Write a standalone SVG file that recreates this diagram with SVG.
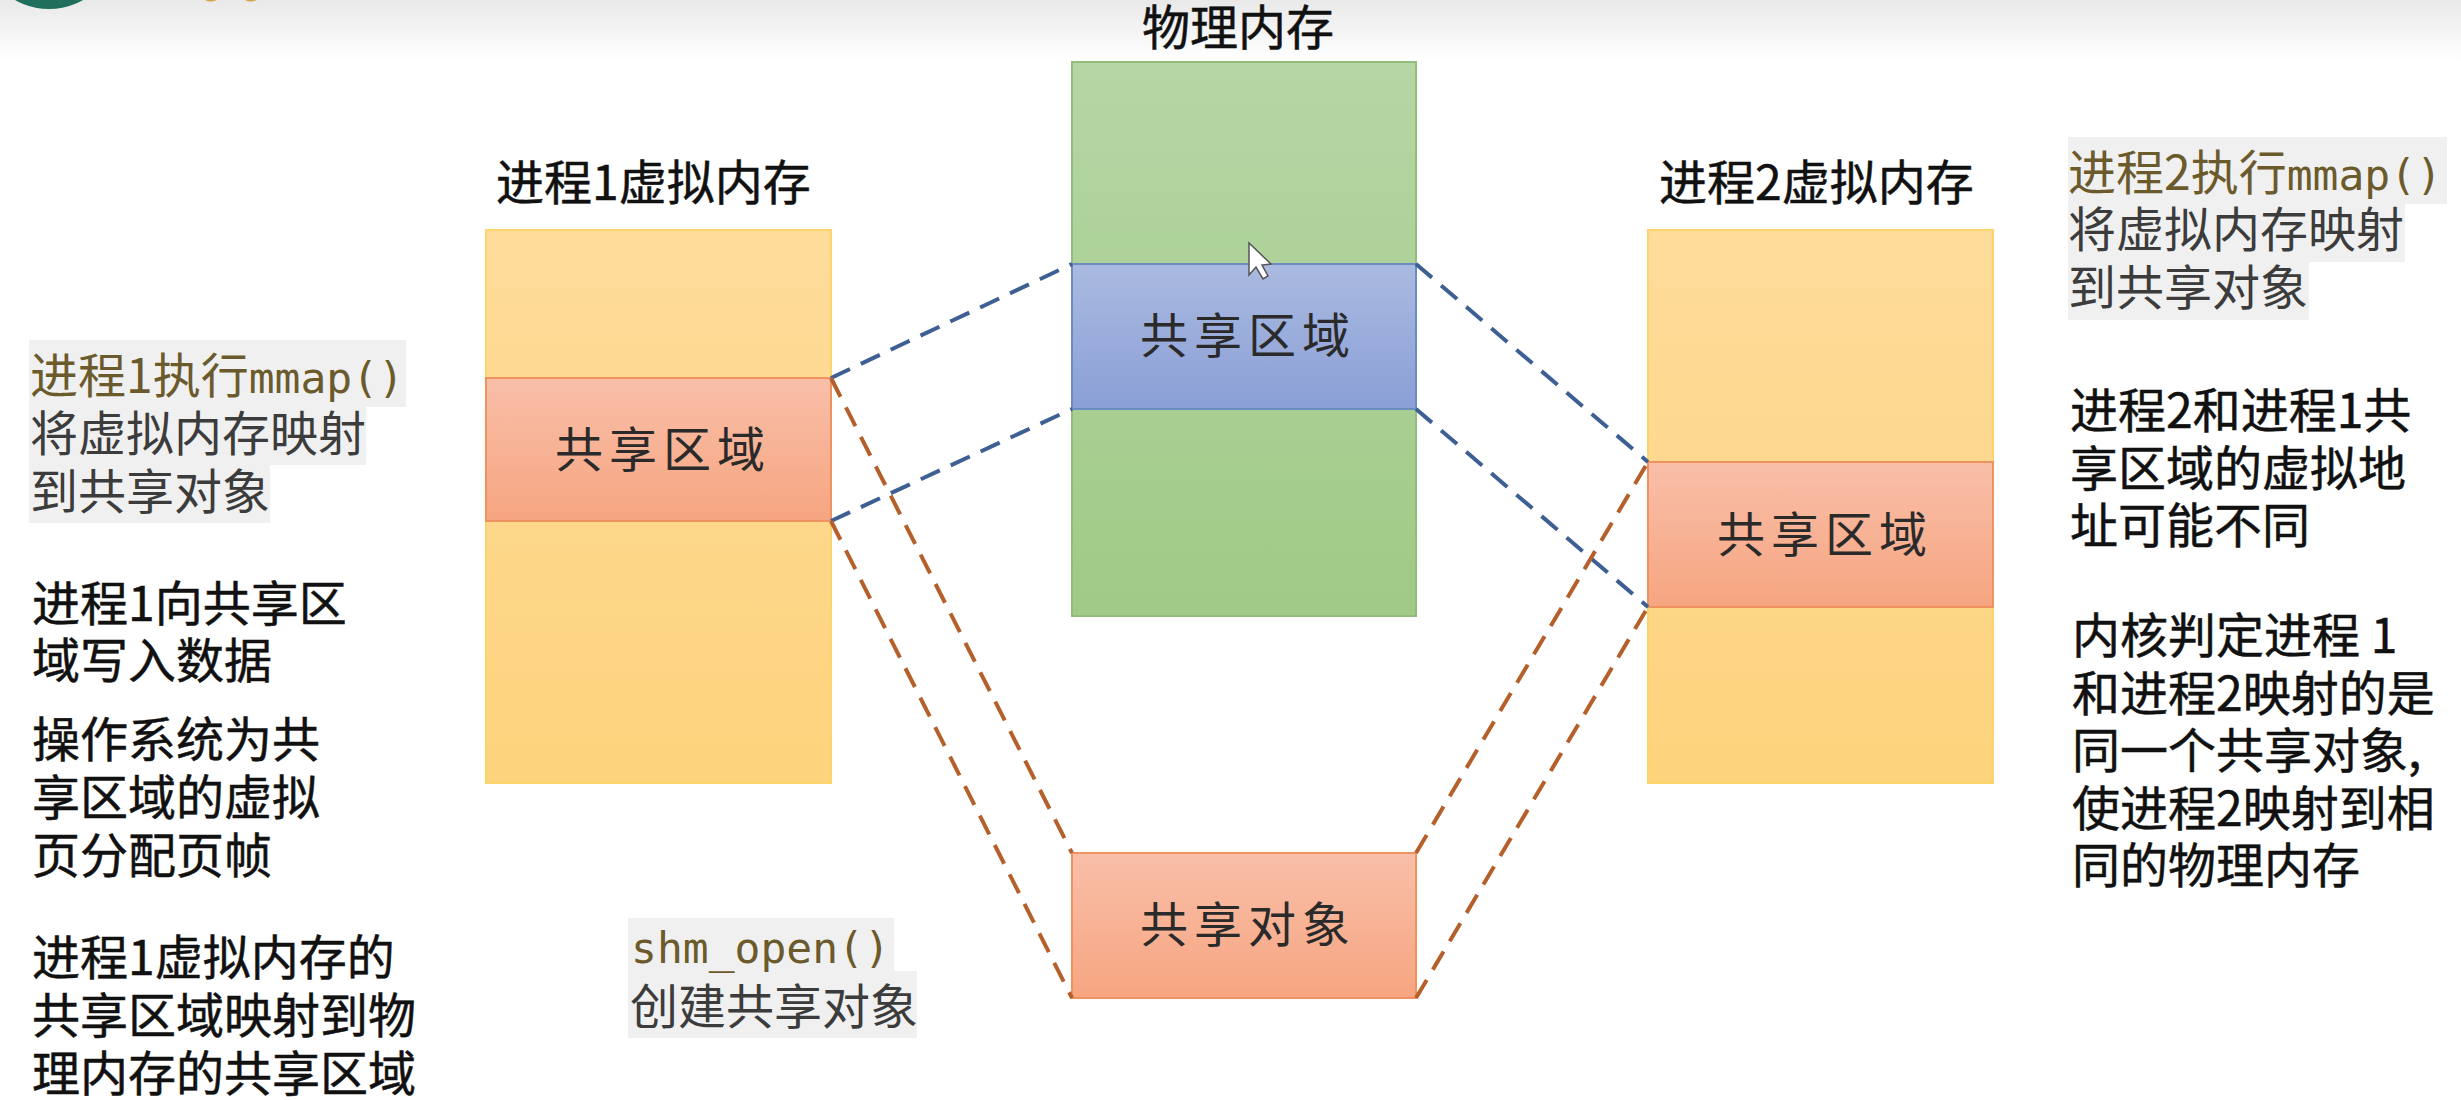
<svg xmlns="http://www.w3.org/2000/svg" width="2461" height="1100" viewBox="0 0 2461 1100">
<style>
text{font-family:"Noto Sans CJK SC","Noto Sans",sans-serif;font-size:48px;fill:#111;stroke:#111;stroke-width:.5px}
.n{letter-spacing:6px;fill:#2a2a2a;stroke:none}
.g{fill:#3c3c3c;stroke:none}
.m{font-family:"DejaVu Sans Mono","Noto Sans CJK SC",monospace;font-size:43px}
.o{fill:#6b5a2c;stroke:none}
.hl{fill:#f0f0f0}
.c{fill:none;stroke-width:4;stroke-dasharray:21 12}
.b{stroke:#3d5f94}
.r{stroke:#b5602a}
</style>
<defs>
<linearGradient id="head" x1="0" y1="0" x2="0" y2="1"><stop offset="0" stop-color="#e9e9e9"/><stop offset="1" stop-color="#fff"/></linearGradient>
<linearGradient id="ye" x1="0" y1="0" x2="0" y2="1"><stop offset="0" stop-color="#fedc9b"/><stop offset="1" stop-color="#fdd37c"/></linearGradient>
<linearGradient id="sh" x1="0" y1="0" x2="0" y2="1"><stop offset="0" stop-color="#f9bfa9"/><stop offset="1" stop-color="#f6a580"/></linearGradient>
<linearGradient id="gr" x1="0" y1="0" x2="0" y2="1"><stop offset="0" stop-color="#b6d6a5"/><stop offset="1" stop-color="#a0ca86"/></linearGradient>
<linearGradient id="bl" x1="0" y1="0" x2="0" y2="1"><stop offset="0" stop-color="#aabae0"/><stop offset="1" stop-color="#8a9fd6"/></linearGradient>
</defs>
<rect width="2461" height="1100" fill="#fff"/>
<rect width="2461" height="60" fill="url(#head)"/>
<circle cx="49" cy="-60" r="69" fill="#1f6f5c"/>
<path d="M205 0Q210 3 217 0ZM245 0Q250 3 257 0Z" fill="#d6a548"/>
<g id="process1">
<text x="496" y="200">进程1虚拟内存</text>
<rect x="486" y="230" width="345" height="553" fill="url(#ye)" stroke="#fbd56c" stroke-width="2"/>
</g>
<g id="process1-shared">
<rect x="486" y="378" width="345" height="143" fill="url(#sh)" stroke="#ee9360" stroke-width="2"/>
<text class="n" x="555" y="467">共享区域</text>
</g>
<g id="physical">
<text x="1142" y="45">物理内存</text>
<rect x="1072" y="62" width="344" height="554" fill="url(#gr)" stroke="#93bd7c" stroke-width="2"/>
</g>
<g id="physical-shared">
<rect x="1072" y="264" width="344" height="145" fill="url(#bl)" stroke="#6a8cc0" stroke-width="2"/>
<text class="n" x="1140" y="353">共享区域</text>
</g>
<g id="shared-object">
<rect x="1072" y="853" width="344" height="145" fill="url(#sh)" stroke="#ee9360" stroke-width="2"/>
<text class="n" x="1140" y="942">共享对象</text>
</g>
<g id="process2">
<text x="1659" y="200">进程2虚拟内存</text>
<rect x="1648" y="230" width="345" height="553" fill="url(#ye)" stroke="#fbd56c" stroke-width="2"/>
</g>
<g id="process2-shared">
<rect x="1648" y="462" width="345" height="145" fill="url(#sh)" stroke="#ee9360" stroke-width="2"/>
<text class="n" x="1717" y="552">共享区域</text>
</g>
<g id="connectors">
<path class="c b" d="M831 378L1072 264"/>
<path class="c b" d="M831 521L1072 409"/>
<path class="c b" d="M1416 264L1648 462"/>
<path class="c b" d="M1416 409L1648 607"/>
<path class="c r" d="M831 378L1072 853"/>
<path class="c r" d="M831 521L1072 998"/>
<path class="c r" d="M1416 853L1648 462"/>
<path class="c r" d="M1416 998L1648 607"/>
</g>
<path id="cursor" d="M1249 243L1249 275L1256 267L1263 279L1268 276L1262 265L1271 264Z" fill="#fff" stroke="#555" stroke-width="1.5"/>
<g id="note-left-1">
<rect class="hl" x="29" y="340" width="377" height="67"/>
<rect class="hl" x="29" y="407" width="337" height="58"/>
<rect class="hl" x="29" y="465" width="241" height="58"/>
<text class="o" x="30" y="393">进程1执行<tspan class="m o">mmap()</tspan></text>
<text class="g" x="30" y="451">将虚拟内存映射</text>
<text class="g" x="30" y="509">到共享对象</text>
</g>
<g id="note-left-2">
<text x="32" y="621">进程1向共享区</text>
<text x="32" y="678">域写入数据</text>
</g>
<g id="note-left-3">
<text x="32" y="757">操作系统为共</text>
<text x="32" y="815">享区域的虚拟</text>
<text x="32" y="873">页分配页帧</text>
</g>
<g id="note-left-4">
<text x="32" y="975">进程1虚拟内存的</text>
<text x="32" y="1033">共享区域映射到物</text>
<text x="32" y="1091">理内存的共享区域</text>
</g>
<g id="note-shm">
<rect class="hl" x="628" y="918" width="266" height="53"/>
<rect class="hl" x="628" y="971" width="289" height="67"/>
<text class="m o" x="631" y="963">shm_open()</text>
<text class="g" x="630" y="1024">创建共享对象</text>
</g>
<g id="note-right-1">
<rect class="hl" x="2068" y="137" width="379" height="67"/>
<rect class="hl" x="2068" y="204" width="337" height="58"/>
<rect class="hl" x="2068" y="262" width="241" height="58"/>
<text class="o" x="2068" y="190">进程2执行<tspan class="m o">mmap()</tspan></text>
<text class="g" x="2068" y="247">将虚拟内存映射</text>
<text class="g" x="2068" y="305">到共享对象</text>
</g>
<g id="note-right-2">
<text x="2070" y="428">进程2和进程1共</text>
<text x="2070" y="486">享区域的虚拟地</text>
<text x="2070" y="543">址可能不同</text>
</g>
<g id="note-right-3">
<text x="2072" y="653">内核判定进程 1</text>
<text x="2072" y="711">和进程2映射的是</text>
<text x="2072" y="768">同一个共享对象,</text>
<text x="2072" y="826">使进程2映射到相</text>
<text x="2072" y="883">同的物理内存</text>
</g>
</svg>
